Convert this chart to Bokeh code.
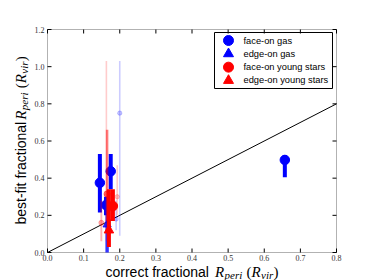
import numpy as np
from bokeh.plotting import figure
from bokeh.models import Range1d, Label, BoxAnnotation, ColumnDataSource
from bokeh.core.properties import value
from bokeh.embed import file_html
from bokeh.resources import INLINE

# ---------------- data ----------------
x_ticks = [0.0, 0.1, 0.2, 0.3, 0.4, 0.5, 0.6, 0.7, 0.8]
y_ticks = [0.0, 0.2, 0.4, 0.6, 0.8, 1.0, 1.2]
x_tick_labels = ["0.0", "0.1", "0.2", "0.3", "0.4", "0.5", "0.6", "0.7", "0.8"]
y_tick_labels = ["0.0", "0.2", "0.4", "0.6", "0.8", "1.0", "1.2"]
x_lim = [0.0, 0.8]
y_lim = [0.0, 1.2]

line_x = [0.0, 0.8]
line_y = [0.0, 0.8]

# face-on gas (blue circles)
fg_x  = [0.200, 0.190, 0.145, 0.162, 0.175, 0.657]
fg_y  = [0.750, 0.180, 0.375, 0.255, 0.437, 0.498]
fg_lo = [0.090, 0.120, 0.215, 0.200, 0.340, 0.405]
fg_hi = [1.030, 0.280, 0.530, 0.300, 0.530, 0.525]
fg_w  = [0.2, 0.2, 1.0, 1.0, 1.0, 1.0]

# edge-on gas (blue triangles)
eg_x  = [0.165]
eg_y  = [0.150]
eg_lo = [0.000]
eg_hi = [0.250]
eg_w  = [0.8]

# face-on young stars (red circles)
fy_x  = [0.149, 0.193, 0.165, 0.181]
fy_y  = [0.160, 0.300, 0.315, 0.250]
fy_lo = [0.060, 0.200, 0.170, 0.170]
fy_hi = [0.280, 0.470, 0.660, 0.340]
fy_w  = [0.3, 0.2, 0.5, 1.0]

# edge-on young stars (red triangles)
ey_x  = [0.163, 0.170]
ey_y  = [0.315, 0.120]
ey_lo = [0.060, 0.030]
ey_hi = [1.030, 0.340]
ey_w  = [0.2, 1.0]

legend_labels = ["face-on gas", "edge-on gas", "face-on young stars", "edge-on young stars"]
legend_markers = ["circle", "triangle", "circle", "triangle"]
legend_colors = ["#0000ff", "#0000ff", "#ff0000", "#ff0000"]

# ---------------- layout geometry (pixels) ----------------
W, H = 374, 280
FL, FR, FT, FB = 47, 336, 29, 252          # plot frame edges in canvas pixels
PX_X = (FR - FL) / (x_lim[1] - x_lim[0])
PX_Y = (FB - FT) / (y_lim[1] - y_lim[0])

def dx(px):
    return x_lim[0] + (px - FL) / PX_X
def dy(py):
    return y_lim[0] + (FB - py) / PX_Y

# the whole canvas is the drawing frame; axes are drawn by hand
p = figure(width=W, height=H, output_backend="svg", toolbar_location=None,
           x_range=Range1d(dx(0), dx(W)), y_range=Range1d(dy(H), dy(0)),
           x_axis_location=None, y_axis_location=None,
           min_border_left=0, min_border_right=0, min_border_top=0, min_border_bottom=0)
p.xgrid.visible = False
p.ygrid.visible = False
p.outline_line_color = None
p.background_fill_color = "white"
p.border_fill_color = "white"

# plot frame
p.add_layout(BoxAnnotation(left=x_lim[0], right=x_lim[1], bottom=y_lim[0], top=y_lim[1],
                           fill_alpha=0, line_color="black", line_width=1, level="underlay"))

# ticks (inward, on all four sides)
TL = 4
xt = np.array(x_ticks)
yt = np.array(y_ticks)
p.segment(x0=xt, y0=y_lim[0], x1=xt, y1=y_lim[0] + TL / PX_Y, line_color="black", line_width=1)
p.segment(x0=xt, y0=y_lim[1], x1=xt, y1=y_lim[1] - TL / PX_Y, line_color="black", line_width=1)
p.segment(x0=x_lim[0], y0=yt, x1=x_lim[0] + TL / PX_X, y1=yt, line_color="black", line_width=1)
p.segment(x0=x_lim[1], y0=yt, x1=x_lim[1] - TL / PX_X, y1=yt, line_color="black", line_width=1)

# tick labels
p.text(x=xt, y=y_lim[0] - 2 / PX_Y, text=x_tick_labels, text_align="center",
       text_baseline="top", text_font=value("Liberation Serif"), text_font_size="8px",
       text_color="#333333")
p.text(x=x_lim[0] - 3 / PX_X, y=yt, text=y_tick_labels, text_align="right",
       text_baseline="middle", text_font=value("Liberation Serif"), text_font_size="8px",
       text_color="#333333")

# 1:1 line
p.line(line_x, line_y, line_color="black", line_width=1)

def draw_series(xs, ys, lo, hi, w, color, marker):
    w = np.array(w)
    src = ColumnDataSource(dict(x=xs, y=ys, lo=lo, hi=hi, a=w,
                                lw=1 + 3 * w, s=3 + 6.5 * w))
    p.segment(x0="x", y0="lo", x1="x", y1="hi", source=src,
              line_color=color, line_alpha="a", line_width="lw")
    p.scatter(x="x", y="y", source=src, marker=marker, size="s",
              fill_color=color, line_color=color, fill_alpha="a", line_alpha="a")

draw_series(fg_x, fg_y, fg_lo, fg_hi, fg_w, "#0000ff", "circle")
draw_series(eg_x, eg_y, eg_lo, eg_hi, eg_w, "#0000ff", "triangle")
draw_series(fy_x, fy_y, fy_lo, fy_hi, fy_w, "#ff0000", "circle")
draw_series(ey_x, ey_y, ey_lo, ey_hi, ey_w, "#ff0000", "triangle")

# ---------------- legend ----------------
p.add_layout(BoxAnnotation(left=dx(214), right=dx(332), top=dy(32), bottom=dy(88),
                           fill_color="white", fill_alpha=1, line_color="black",
                           line_width=1, line_alpha=1, level="underlay"))
row_py = [40 + 13.33 * i for i in range(len(legend_labels))]
leg_src = ColumnDataSource(dict(x=[dx(228)] * 4, y=[dy(v) for v in row_py],
                                m=legend_markers, c=legend_colors))
p.scatter(x="x", y="y", marker="m", size=10, fill_color="c", line_color="c", source=leg_src)
for lab, py in zip(legend_labels, row_py):
    p.add_layout(Label(x=dx(243), y=dy(py), text=lab, text_font="Liberation Sans",
                       text_font_size="9.3px", text_baseline="middle",
                       text_align="left", text_color="black"))

# ---------------- axis titles ----------------
pieces = [("sans", 0.0), ("R", 109.5), ("peri", 119.0), ("(", 141.0),
          ("R", 146.0), ("vir", 155.5), (")", 168.0)]

def piece_style(k):
    if k == 0:
        return dict(text_font="Liberation Sans", text_font_size="14px", text_font_style="normal"), 0
    txt = pieces[k][0]
    if txt == "R":
        return dict(text_font="Liberation Serif", text_font_size="15px", text_font_style="italic"), 0
    if txt in ("(", ")"):
        return dict(text_font="Liberation Serif", text_font_size="15px", text_font_style="normal"), 0
    return dict(text_font="Liberation Serif", text_font_size="11px", text_font_style="italic"), 3

# x label
xs0 = 105
for k, (txt, off) in enumerate(pieces):
    st, sub = piece_style(k)
    t = "correct fractional" if k == 0 else txt
    p.add_layout(Label(x=dx(xs0 + off), y=dy(271 + sub), text=t, text_align="left",
                       text_baseline="alphabetic", text_color="black", **st))

# y label (rotated)
ys0 = 224
for k, (txt, off) in enumerate(pieces):
    st, sub = piece_style(k)
    t = "best-fit fractional" if k == 0 else txt
    o = off if k == 0 else off - 4.7
    p.add_layout(Label(x=dx(20 + sub), y=dy(ys0 - o), text=t, angle=np.pi / 2,
                       text_align="left", text_baseline="alphabetic",
                       text_color="black", **st))

open("out.html", "w").write(file_html(p, INLINE))
